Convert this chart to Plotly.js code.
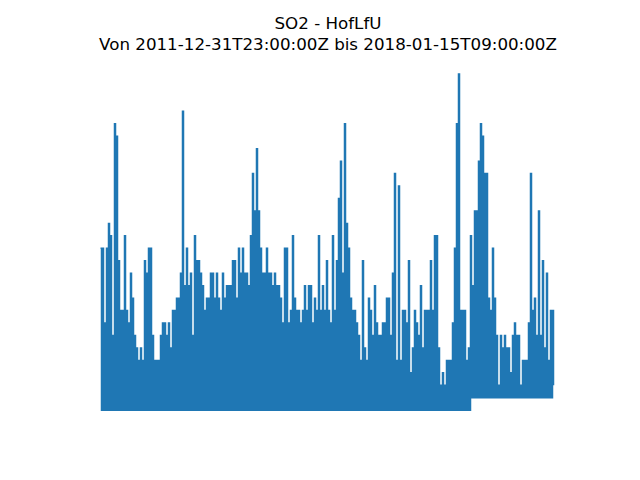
<!DOCTYPE html>
<html><head><meta charset="utf-8">
<script src="https://cdn.plot.ly/plotly-3.0.1.min.js"></script>
<style>html,body{margin:0;padding:0;background:#fff}#chart{width:640px;height:480px}</style>
</head><body><div id="chart"></div>
<script>
// Station / period
const pollutant = "SO2";
const station = "HofLfU";
const periodStart = "2011-12-31T23:00:00Z";
const periodEnd = "2018-01-15T09:00:00Z";

// SO2 readings (µg/m³): highest value in each of 227 equal time bins across the period
const binMax = [
  13,13,7,13,15,14,6,23,22,12,
  8,8,14,8,7,11,9,6,5,4,
  5,4,12,11,13,13,6,4,4,4,
  6,7,7,6,7,5,8,8,9,9,
  11,24,10,13,10,11,6,14,12,12,
  11,10,8,9,9,11,11,9,11,9,
  8,11,9,10,10,10,12,12,9,13,
  11,13,11,11,10,14,19,16,21,16,
  13,11,11,13,11,11,10,11,10,10,
  9,7,13,13,7,8,14,9,8,8,
  7,8,10,8,10,10,7,9,8,14,
  8,10,8,12,8,7,14,8,12,17,
  20,11,23,15,13,9,8,8,7,6,
  4,12,5,4,9,8,6,10,7,6,
  6,7,7,9,9,6,11,19,4,18,
  4,8,8,7,12,3,5,8,7,6,
  10,5,8,8,8,12,8,14,14,5,
  2,3,2,4,4,4,7,13,23,27,
  8,8,8,4,5,14,10,16,16,20,
  23,22,19,19,9,8,13,9,6,2,
  6,5,6,5,5,3,6,7,6,6,
  2,4,4,4,7,19,8,9,6,16,
  6,12,5,11,4,8,8
];
// lowest value in each bin
const binMin = [
  0,0,0,0,0,0,0,0,0,0,
  0,0,0,0,0,0,0,0,0,0,
  0,0,0,0,0,0,0,0,0,0,
  0,0,0,0,0,0,0,0,0,0,
  0,0,0,0,0,0,0,0,0,0,
  0,0,0,0,0,0,0,0,0,0,
  0,0,0,0,0,0,0,0,0,0,
  0,0,0,0,0,0,0,0,0,0,
  0,0,0,0,0,0,0,0,0,0,
  0,0,0,0,0,0,0,0,0,0,
  0,0,0,0,0,0,0,0,0,0,
  0,0,0,0,0,0,0,0,0,0,
  0,0,0,0,0,0,0,0,0,0,
  0,0,0,0,0,0,0,0,0,0,
  0,0,0,0,0,0,0,0,0,0,
  0,0,0,0,0,0,0,0,0,0,
  0,0,0,0,0,0,0,0,0,0,
  0,0,0,0,0,0,0,0,0,0,
  0,0,0,0,0,1,1,1,1,1,
  1,1,1,1,1,1,1,1,1,1,
  1,1,1,1,1,1,1,1,1,1,
  1,1,1,1,1,1,1,1,1,1,
  1,1,1,1,1,1,2
];

// Build the trace: within each bin the series holds its max, then drops to its min
const t0 = Date.parse(periodStart), t1 = Date.parse(periodEnd);
const nBins = binMax.length, dt = (t1 - t0) / nBins;
const xs = [], ys = [];
for (let i = 0; i < nBins; i++) {
  xs.push(t0 + (i + 0.25) * dt); ys.push(binMax[i]);
  xs.push(t0 + (i + 0.75) * dt); ys.push(binMin[i]);
}

// Layout geometry (matplotlib-like axes box, axes hidden)
const W = 640, H = 480, mL = 80, mR = 64, mT = 58, mB = 53;
const pW = W - mL - mR, pH = H - mT - mB;
const fx0 = (100 - mL) / pW, fx1 = (554 - mL) / pW;
const xSpan = (t1 - t0) / (fx1 - fx0);
const xRange = [t0 - fx0 * xSpan, t0 - fx0 * xSpan + xSpan];
const yLo = 0, yHi = Math.max(...binMax);
const fy0 = (H - mB - 410.2) / pH, fy1 = (H - mB - 74) / pH;
const ySpan = (yHi - yLo) / (fy1 - fy0);
const yRange = [yLo - fy0 * ySpan, yLo - fy0 * ySpan + ySpan];

const titleFont = {family: "DejaVu Sans", size: 16.7, color: "#000000"};

const data = [{
  type: "scatter", mode: "lines", x: xs, y: ys,
  line: {color: "#1f77b4", width: 1.5, shape: "hv"},
  hoverinfo: "skip"
}];
const layout = {
  width: W, height: H,
  margin: {l: mL, r: mR, t: mT, b: mB, pad: 0},
  paper_bgcolor: "#ffffff", plot_bgcolor: "#ffffff",
  showlegend: false,
  title: {
    text: pollutant + " - " + station + "<br>Von " + periodStart + " bis " + periodEnd,
    font: titleFont,
    x: 0.5, xref: "paper", xanchor: "center",
    y: 1 - 28.5 / H, yref: "container", yanchor: "middle"
  },
  xaxis: {type: "date", visible: false, range: xRange, autorange: false, fixedrange: true},
  yaxis: {visible: false, range: yRange, autorange: false, fixedrange: true}
};
Plotly.newPlot("chart", data, layout, {staticPlot: true, displayModeBar: false});
</script>
</body></html>
